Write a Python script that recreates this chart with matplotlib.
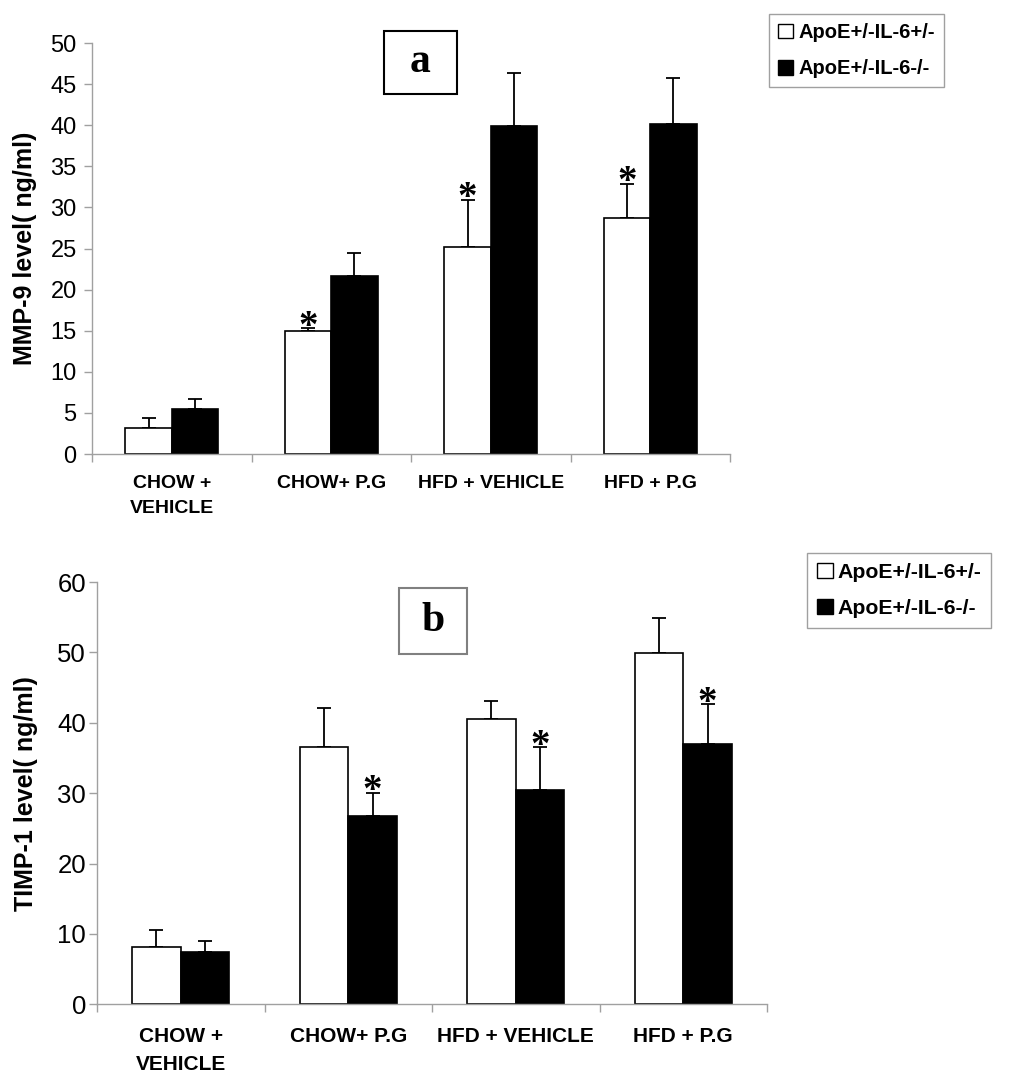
import numpy as np
import matplotlib
matplotlib.use("Agg")
import matplotlib.pyplot as plt
import matplotlib.patches as mpatches

# ---- data ----
groups = ["CHOW +\nVEHICLE", "CHOW+ P.G", "HFD + VEHICLE", "HFD + P.G"]
series = ["ApoE+/-IL-6+/-", "ApoE+/-IL-6-/-"]

mmp9_het = [3.2, 15.0, 25.2, 28.7]
mmp9_het_err = [1.2, 0.3, 5.7, 4.2]
mmp9_ko = [5.5, 21.6, 39.9, 40.1]
mmp9_ko_err = [1.2, 2.9, 6.5, 5.6]
mmp9_star_het = [False, True, True, True]

timp1_het = [8.2, 36.5, 40.6, 49.9]
timp1_het_err = [2.3, 5.6, 2.5, 5.0]
timp1_ko = [7.5, 26.8, 30.4, 37.0]
timp1_ko_err = [1.5, 3.2, 6.1, 5.6]
timp1_star_ko = [False, True, True, True]

W, H = 1011, 1092
SANS = "Liberation Sans"
SERIF = "Liberation Serif"
GRAY = "#a0a0a0"
WIDTH = 0.29


def panel(ax, het, het_err, ko, ko_err, star_het, star_ko, ymax, ystep,
          ylabel, tick_size, xlab_size, xlab_pad, ylab_x, ytick_pad):
    x = np.arange(len(groups))
    ax.bar(x - WIDTH / 2, het, WIDTH, color="white", edgecolor="black", linewidth=1.2, zorder=2)
    ax.bar(x + WIDTH / 2, ko, WIDTH, color="black", edgecolor="black", linewidth=1.2, zorder=2)
    zeros = np.zeros(len(x))
    ax.errorbar(x - WIDTH / 2, het, yerr=[zeros, het_err], fmt="none", ecolor="black",
                elinewidth=1.3, capsize=5, capthick=1.3, zorder=1)
    ax.errorbar(x + WIDTH / 2, ko, yerr=[zeros, ko_err], fmt="none", ecolor="black",
                elinewidth=1.3, capsize=5, capthick=1.3, zorder=1)

    # significance stars
    for i in range(len(x)):
        if star_het[i]:
            ax.annotate("*", (x[i] - WIDTH / 2, het[i] + het_err[i]), xytext=(0, -6),
                        textcoords="offset points", ha="center", va="baseline",
                        fontsize=28, fontweight="bold", family=SERIF)
        if star_ko[i]:
            ax.annotate("*", (x[i] + WIDTH / 2, ko[i] + ko_err[i]), xytext=(0, -6),
                        textcoords="offset points", ha="center", va="baseline",
                        fontsize=28, fontweight="bold", family=SERIF)

    ax.set_xlim(-0.5, len(groups) - 0.5)
    ax.set_ylim(0, ymax)
    ax.set_yticks(np.arange(0, ymax + 1, ystep))
    ax.tick_params(axis="y", length=6, width=1, color=GRAY, labelsize=tick_size, pad=ytick_pad)
    for lab in ax.get_yticklabels():
        lab.set_family(SANS)

    ax.set_xticks(np.arange(-0.5, len(groups), 1.0))
    ax.set_xticklabels([])
    ax.tick_params(axis="x", which="major", length=6, width=1, color=GRAY)
    ax.set_xticks(x, minor=True)
    ax.set_xticklabels(groups, minor=True, fontsize=xlab_size, fontweight="bold",
                       family=SANS, linespacing=1.6)
    ax.tick_params(axis="x", which="minor", length=0, pad=xlab_pad)

    ax.set_ylabel(ylabel, fontsize=18, fontweight="bold", family=SANS)
    ax.yaxis.set_label_coords(ylab_x, 0.5)

    for s in ["top", "right"]:
        ax.spines[s].set_visible(False)
    for s in ["left", "bottom"]:
        ax.spines[s].set_color(GRAY)
        ax.spines[s].set_linewidth(1)


def legend(fig, x, y, size, spacing):
    handles = [mpatches.Patch(facecolor="white", edgecolor="black", linewidth=1, label=series[0]),
               mpatches.Patch(facecolor="black", edgecolor="black", linewidth=1, label=series[1])]
    leg = fig.legend(handles=handles, loc="upper left", bbox_to_anchor=(x / W, 1 - y / H),
                     prop={"family": SANS, "weight": "bold", "size": size},
                     handlelength=0.75, handleheight=0.75, handletextpad=0.25,
                     labelspacing=spacing, borderpad=0.45, borderaxespad=0,
                     fancybox=False, framealpha=1)
    leg.get_frame().set_edgecolor(GRAY)
    leg.get_frame().set_linewidth(1)


def letter_box(fig, x0, y0, x1, y1, letter, edge):
    fig.add_artist(mpatches.Rectangle((x0 / W, 1 - y1 / H), (x1 - x0) / W, (y1 - y0) / H,
                                      transform=fig.transFigure, fill=False,
                                      edgecolor=edge, linewidth=1.5))
    fig.text((x0 + x1) / 2 / W, 1 - (y0 + y1) / 2 / H, letter, ha="center", va="center",
             fontsize=30, fontweight="bold", family=SERIF)


fig = plt.figure(figsize=(W / 100, H / 100), dpi=100)

ax1 = fig.add_axes([92 / W, 1 - 454 / H, 638 / W, 411 / H])
panel(ax1, mmp9_het, mmp9_het_err, mmp9_ko, mmp9_ko_err, mmp9_star_het, [False] * 4,
      50, 5, "MMP-9 level( ng/ml)", 17, 14, 15, -0.086, 5)

ax2 = fig.add_axes([97 / W, 1 - 1004.3 / H, 670 / W, 422.3 / H])
panel(ax2, timp1_het, timp1_het_err, timp1_ko, timp1_ko_err, [False] * 4, timp1_star_ko,
      60, 10, "TIMP-1 level( ng/ml)", 18.5, 15, 16, -0.088, 2)

legend(fig, 769, 14, 14.5, 0.85)
legend(fig, 807, 553, 15.3, 0.8)

letter_box(fig, 384, 31, 457, 94, "a", "black")
letter_box(fig, 399, 588, 467, 654, "b", "#808080")

fig.savefig("out.png", dpi=100)
